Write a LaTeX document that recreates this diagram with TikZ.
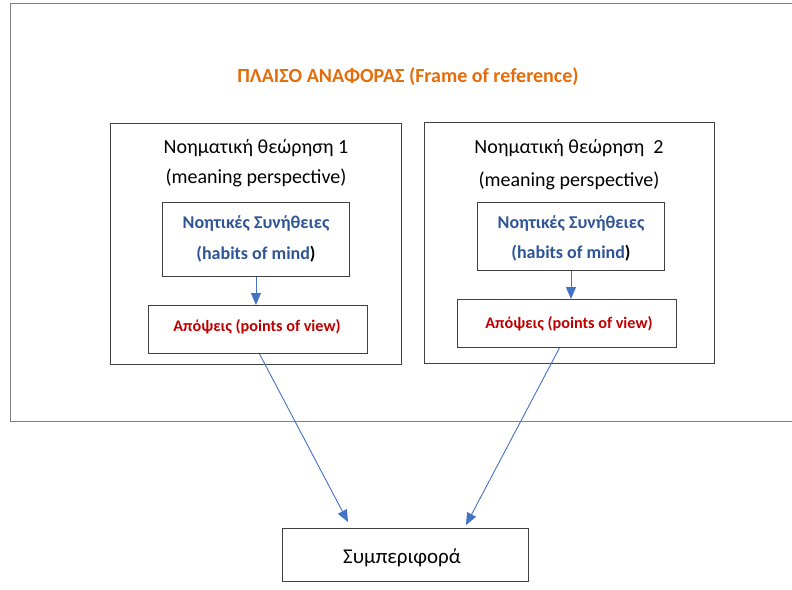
\documentclass[tikz,border=0pt]{standalone}
\usepackage{fontspec}
\setmainfont{Carlito}
\usetikzlibrary{arrows.meta,calc}
\definecolor{titleor}{RGB}{228,108,10}
\definecolor{habblue}{RGB}{47,85,151}
\definecolor{povred}{RGB}{192,0,0}
\definecolor{arrblue}{RGB}{68,114,196}
\definecolor{boxline}{RGB}{64,64,64}
\tikzset{
  box/.style={draw=boxline, line width=0.9pt, fill=white, inner sep=0pt, anchor=north west},
  lbl/.style={inner sep=0pt, anchor=base},
  reg/.style={lbl, font=\fontsize{20}{24}\selectfont, text=black},
  hab/.style={lbl, font=\fontsize{18}{22}\selectfont\bfseries, text=habblue},
  pov/.style={lbl, font=\fontsize{16.2}{20}\selectfont\bfseries, text=povred},
  conn/.style={draw=arrblue, line width=0.9pt, -{Triangle[length=12pt,width=10pt]}}
}
\begin{document}
\begin{tikzpicture}[x=1pt,y=-1pt]
\useasboundingbox (0,0) rectangle (792,589);
\clip (0,0) rectangle (792,589);
\node[draw=gray, line width=1.3pt, inner sep=0pt, anchor=north west, minimum width=800pt, minimum height=418pt] (frame) at (10,3) {};
\node[lbl, font=\fontsize{20}{24}\selectfont\bfseries, text=titleor] (title) at (408,82) {ΠΛΑΙΣΟ ΑΝΑΦΟΡΑΣ (Frame of reference)};

\node[box, minimum width=291pt, minimum height=241pt] (mp1) at (110,123) {};
\node[box, minimum width=290pt, minimum height=241pt] (mp2) at (424,122) {};

\node[reg] (mp1a) at (256,153) {Νοηματική θεώρηση 1};
\node[reg] (mp1b) at (256,183) {(meaning perspective)};
\node[reg] (mp2a) at (569,153) {Νοηματική θεώρηση\ \ 2};
\node[reg] (mp2b) at (569,186) {(meaning perspective)};

\node[box, minimum width=187pt, minimum height=74pt] (hab1) at (162,202) {};
\node[box, minimum width=187pt, minimum height=68pt] (hab2) at (477,202) {};
\node[hab] (hab1a) at (256,228) {Νοητικές Συνήθειες};
\node[hab] (hab1b) at (256,259) {(habits of mind\textcolor{black}{)}};
\node[hab] (hab2a) at (571,228) {Νοητικές Συνήθειες};
\node[hab] (hab2b) at (571,258) {(habits of mind\textcolor{black}{)}};

\node[box, minimum width=219pt, minimum height=48pt] (pov1) at (148,305) {};
\node[box, minimum width=219pt, minimum height=48pt] (pov2) at (457,299) {};
\node[pov] (pov1t) at (257,331) {Απόψεις (points of view)};
\node[pov] (pov2t) at (569,328) {Απόψεις (points of view)};

\node[box, minimum width=246pt, minimum height=53pt] (beh) at (282,528) {};
\node[lbl, font=\fontsize{21}{25}\selectfont] (beht) at (402,563) {Συμπεριφορά};

\draw[conn] (hab1.south) -- (hab1.south |- pov1.north);
\draw[conn] (hab2.south) -- (hab2.south |- pov2.north);
\coordinate (tip1) at (348,522);
\coordinate (tip2) at (466,525);
\coordinate (start1) at ($(pov1.south west)!0.507!(pov1.south east)$);
\coordinate (start2) at ($(pov2.south west)!0.466!(pov2.south east)$);
\draw[conn] (start1) -- (tip1);
\draw[conn] (start2) -- (tip2);
\end{tikzpicture}
\end{document}
